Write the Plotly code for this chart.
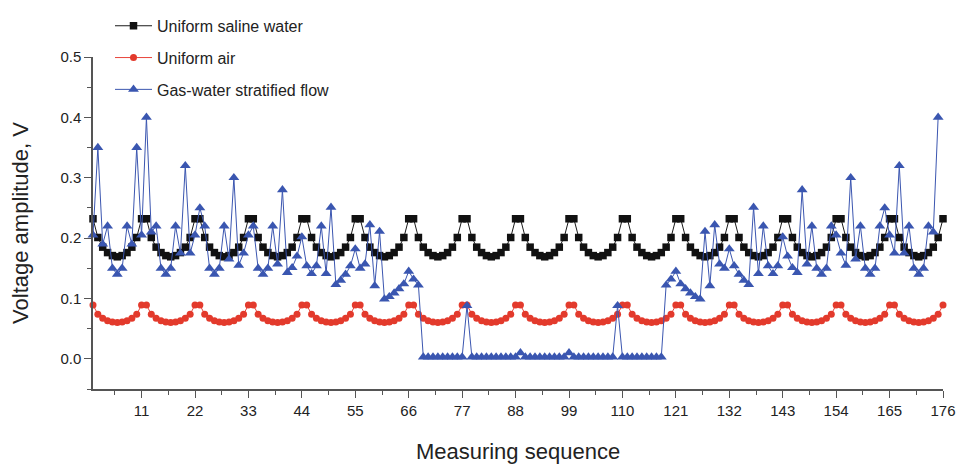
import plotly.graph_objects as go

# Measuring sequence index (16 excitation positions x 11 measurements)
seq = list(range(1, 177))

# Uniform saline water, V
saline = [
    0.232, 0.201, 0.185, 0.176, 0.171, 0.169, 0.171, 0.176, 0.185, 0.201, 0.232,
    0.232, 0.201, 0.185, 0.176, 0.171, 0.169, 0.171, 0.176, 0.185, 0.201, 0.232,
    0.232, 0.201, 0.185, 0.176, 0.171, 0.169, 0.171, 0.176, 0.185, 0.201, 0.232,
    0.232, 0.201, 0.185, 0.176, 0.171, 0.169, 0.171, 0.176, 0.185, 0.201, 0.232,
    0.232, 0.201, 0.185, 0.176, 0.171, 0.169, 0.171, 0.176, 0.185, 0.201, 0.232,
    0.232, 0.201, 0.185, 0.176, 0.171, 0.169, 0.171, 0.176, 0.185, 0.201, 0.232,
    0.232, 0.201, 0.185, 0.176, 0.171, 0.169, 0.171, 0.176, 0.185, 0.201, 0.232,
    0.232, 0.201, 0.185, 0.176, 0.171, 0.169, 0.171, 0.176, 0.185, 0.201, 0.232,
    0.232, 0.201, 0.185, 0.176, 0.171, 0.169, 0.171, 0.176, 0.185, 0.201, 0.232,
    0.232, 0.201, 0.185, 0.176, 0.171, 0.169, 0.171, 0.176, 0.185, 0.201, 0.232,
    0.232, 0.201, 0.185, 0.176, 0.171, 0.169, 0.171, 0.176, 0.185, 0.201, 0.232,
    0.232, 0.201, 0.185, 0.176, 0.171, 0.169, 0.171, 0.176, 0.185, 0.201, 0.232,
    0.232, 0.201, 0.185, 0.176, 0.171, 0.169, 0.171, 0.176, 0.185, 0.201, 0.232,
    0.232, 0.201, 0.185, 0.176, 0.171, 0.169, 0.171, 0.176, 0.185, 0.201, 0.232,
    0.232, 0.201, 0.185, 0.176, 0.171, 0.169, 0.171, 0.176, 0.185, 0.201, 0.232,
    0.232, 0.201, 0.185, 0.176, 0.171, 0.169, 0.171, 0.176, 0.185, 0.201, 0.232,
]

# Uniform air, V
air = [
    0.089, 0.074, 0.067, 0.063, 0.061, 0.060, 0.061, 0.063, 0.067, 0.074, 0.089,
    0.089, 0.074, 0.067, 0.063, 0.061, 0.060, 0.061, 0.063, 0.067, 0.074, 0.089,
    0.089, 0.074, 0.067, 0.063, 0.061, 0.060, 0.061, 0.063, 0.067, 0.074, 0.089,
    0.089, 0.074, 0.067, 0.063, 0.061, 0.060, 0.061, 0.063, 0.067, 0.074, 0.089,
    0.089, 0.074, 0.067, 0.063, 0.061, 0.060, 0.061, 0.063, 0.067, 0.074, 0.089,
    0.089, 0.074, 0.067, 0.063, 0.061, 0.060, 0.061, 0.063, 0.067, 0.074, 0.089,
    0.089, 0.074, 0.067, 0.063, 0.061, 0.060, 0.061, 0.063, 0.067, 0.074, 0.089,
    0.089, 0.074, 0.067, 0.063, 0.061, 0.060, 0.061, 0.063, 0.067, 0.074, 0.089,
    0.089, 0.074, 0.067, 0.063, 0.061, 0.060, 0.061, 0.063, 0.067, 0.074, 0.089,
    0.089, 0.074, 0.067, 0.063, 0.061, 0.060, 0.061, 0.063, 0.067, 0.074, 0.089,
    0.089, 0.074, 0.067, 0.063, 0.061, 0.060, 0.061, 0.063, 0.067, 0.074, 0.089,
    0.089, 0.074, 0.067, 0.063, 0.061, 0.060, 0.061, 0.063, 0.067, 0.074, 0.089,
    0.089, 0.074, 0.067, 0.063, 0.061, 0.060, 0.061, 0.063, 0.067, 0.074, 0.089,
    0.089, 0.074, 0.067, 0.063, 0.061, 0.060, 0.061, 0.063, 0.067, 0.074, 0.089,
    0.089, 0.074, 0.067, 0.063, 0.061, 0.060, 0.061, 0.063, 0.067, 0.074, 0.089,
    0.089, 0.074, 0.067, 0.063, 0.061, 0.060, 0.061, 0.063, 0.067, 0.074, 0.089,
]

# Gas-water stratified flow, V
stratified = [
    0.205, 0.350, 0.190, 0.220, 0.150, 0.140, 0.150, 0.220, 0.190, 0.350, 0.205,
    0.400, 0.210, 0.220, 0.150, 0.140, 0.150, 0.220, 0.175, 0.320, 0.175, 0.205,
    0.250, 0.220, 0.150, 0.140, 0.150, 0.220, 0.165, 0.300, 0.155, 0.175, 0.205,
    0.220, 0.150, 0.140, 0.150, 0.220, 0.157, 0.280, 0.143, 0.151, 0.170, 0.202,
    0.154, 0.141, 0.154, 0.220, 0.141, 0.251, 0.123, 0.130, 0.140, 0.154, 0.182,
    0.150, 0.157, 0.222, 0.121, 0.211, 0.099, 0.103, 0.109, 0.116, 0.124, 0.145,
    0.132, 0.122, 0.003, 0.003, 0.003, 0.003, 0.003, 0.003, 0.003, 0.003, 0.003,
    0.088, 0.003, 0.003, 0.003, 0.003, 0.003, 0.003, 0.003, 0.003, 0.003, 0.003,
    0.010, 0.003, 0.003, 0.003, 0.003, 0.003, 0.003, 0.003, 0.003, 0.003, 0.010,
    0.003, 0.003, 0.003, 0.003, 0.003, 0.003, 0.003, 0.003, 0.003, 0.088, 0.003,
    0.003, 0.003, 0.003, 0.003, 0.003, 0.003, 0.003, 0.003, 0.122, 0.132, 0.145,
    0.124, 0.116, 0.109, 0.103, 0.099, 0.211, 0.121, 0.222, 0.157, 0.150, 0.182,
    0.154, 0.140, 0.130, 0.123, 0.251, 0.141, 0.220, 0.154, 0.141, 0.154, 0.202,
    0.170, 0.151, 0.143, 0.280, 0.157, 0.220, 0.150, 0.140, 0.150, 0.220, 0.205,
    0.175, 0.155, 0.300, 0.165, 0.220, 0.150, 0.140, 0.150, 0.220, 0.250, 0.205,
    0.175, 0.320, 0.175, 0.220, 0.150, 0.140, 0.150, 0.220, 0.210, 0.400,
]

x_ticks = [11, 22, 33, 44, 55, 66, 77, 88, 99, 110, 121, 132, 143, 154, 165, 176]
y_ticks = [0.0, 0.1, 0.2, 0.3, 0.4, 0.5]

FONT = "Liberation Sans, Arial, sans-serif"
AXIS_COLOR = "#555555"

fig = go.Figure()
fig.add_trace(go.Scatter(
    x=seq, y=saline, name="Uniform saline water", mode="lines+markers",
    line=dict(color="#1a1a1a", width=1),
    marker=dict(symbol="square", size=7.5, color="#111111"),
    cliponaxis=False, legendgroup="a",
))
fig.add_trace(go.Scatter(
    x=seq, y=air, name="Uniform air", mode="lines+markers",
    line=dict(color="#e8443a", width=1),
    marker=dict(symbol="circle", size=7, color="#e33a2c"),
    cliponaxis=False, legendgroup="b",
))
fig.add_trace(go.Scatter(
    x=seq, y=stratified, name="Gas-water stratified flow", mode="lines+markers",
    line=dict(color="#3b56b0", width=1),
    marker=dict(symbol="triangle-up", size=9.5, color="#3a56b0"),
    cliponaxis=False, legendgroup="c",
))

fig.update_layout(
    width=957, height=464,
    margin=dict(l=93, r=14, t=57, b=75, autoexpand=False),
    paper_bgcolor="white", plot_bgcolor="white",
    font=dict(family=FONT, size=15, color="#222222"),
    showlegend=True,
    legend=dict(
        x=0.02, y=1.145, xanchor="left", yanchor="top",
        bgcolor="rgba(0,0,0,0)", borderwidth=0,
        font=dict(family=FONT, size=16, color="#222222"),
        tracegroupgap=8, itemwidth=37,
    ),
    xaxis=dict(
        range=[1, 176], showline=True, linecolor=AXIS_COLOR, linewidth=1.5,
        showgrid=False, zeroline=False, automargin=False,
        tickmode="array", tickvals=x_ticks,
        ticks="outside", ticklen=7, tickwidth=1.2, tickcolor=AXIS_COLOR,
        minor=dict(tick0=0, dtick=5.5, ticks="outside", ticklen=4,
                   tickwidth=1.2, tickcolor=AXIS_COLOR),
        tickfont=dict(size=15),
        title=dict(text="Measuring sequence", font=dict(size=22), standoff=34),
    ),
    yaxis=dict(
        range=[-0.05, 0.5], showline=True, linecolor=AXIS_COLOR, linewidth=1.5,
        showgrid=False, zeroline=False, automargin=False,
        tickmode="array", tickvals=y_ticks, tickformat=".1f",
        ticks="outside", ticklen=7, tickwidth=1.2, tickcolor=AXIS_COLOR,
        minor=dict(tick0=0, dtick=0.05, ticks="outside", ticklen=4,
                   tickwidth=1.2, tickcolor=AXIS_COLOR),
        tickfont=dict(size=15),
        title=dict(text="Voltage amplitude, V", font=dict(size=22), standoff=26),
    ),
)

fig.write_html("out.html")
